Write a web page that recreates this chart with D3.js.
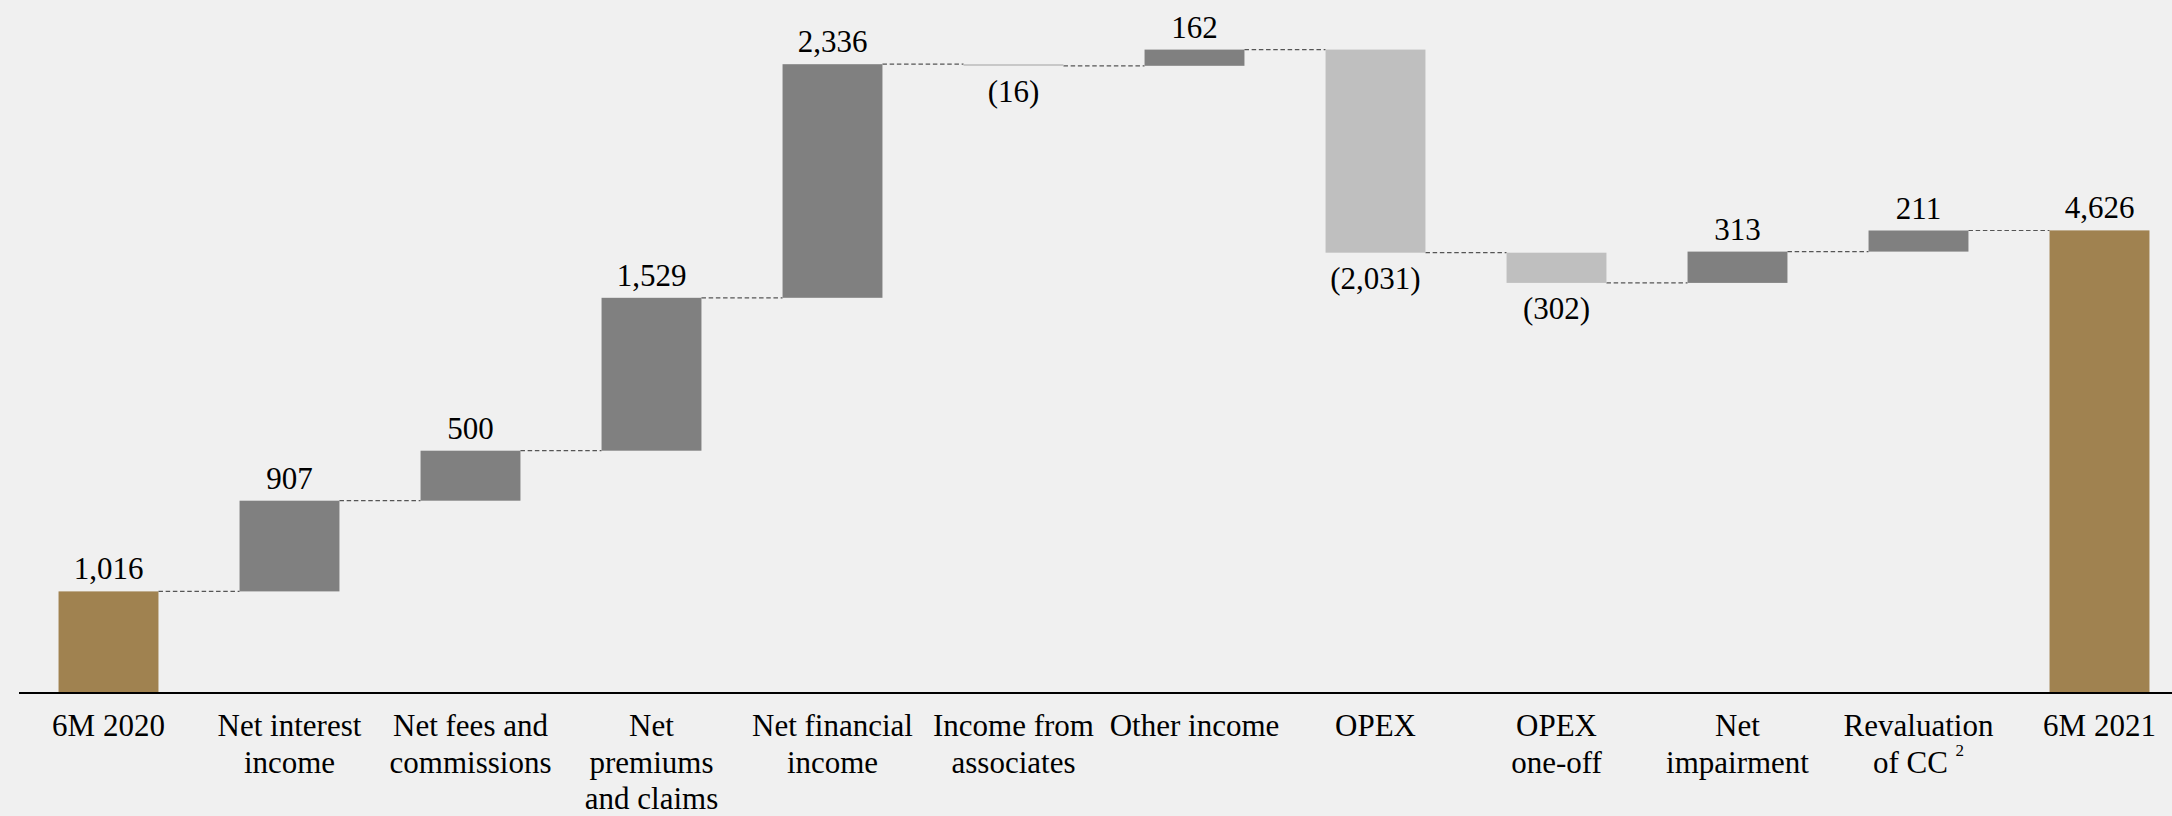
<!DOCTYPE html>
<html>
<head>
<meta charset="utf-8">
<script src="https://cdn.jsdelivr.net/npm/d3@7/dist/d3.min.js"></script>
<style>
  html, body { margin: 0; padding: 0; background: #F0F0F0; }
  svg { display: block; }
</style>
</head>
<body>
<svg id="chart" width="2172" height="816"></svg>
<script>
// ---- Data ----
const categories = [
  "6M 2020", "Net interest income", "Net fees and commissions", "Net premiums and claims",
  "Net financial income", "Income from associates", "Other income", "OPEX",
  "OPEX one-off", "Net impairment", "Revaluation of CC", "6M 2021"
];
const labelLines = [
  ["6M 2020"], ["Net interest", "income"], ["Net fees and", "commissions"],
  ["Net", "premiums", "and claims"], ["Net financial", "income"], ["Income from", "associates"],
  ["Other income"], ["OPEX"], ["OPEX", "one-off"], ["Net", "impairment"],
  ["Revaluation", "of CC"], ["6M 2021"]
];
const superscripts = ["", "", "", "", "", "", "", "", "", "", "2", ""];
const values = [1016, 907, 500, 1529, 2336, -16, 162, -2031, -302, 313, 211, 4626];
const kinds = ["total", "delta", "delta", "delta", "delta", "delta", "delta", "delta", "delta", "delta", "delta", "total"];

// ---- Layout ----
const W = 2172, H = 816;
const axisY = 693;
const colors = { total: "#A08250", up: "#808080", down: "#BFBFBF" };
const font = "'Liberation Serif', 'Times New Roman', serif";

const svg = d3.select("#chart");
svg.append("rect").attr("width", W).attr("height", H).attr("fill", "#F0F0F0");

const x = d3.scaleBand().domain(categories).range([18, 18 + 12 * 181])
  .paddingInner(0.448).paddingOuter(0.224);
const y = d3.scaleLinear().domain([0, 6930]).range([axisY, 0]);

// compute bar extents
let run = 0;
const bars = categories.map((c, i) => {
  const v = values[i];
  let y0, y1;
  if (kinds[i] === "total") { y0 = 0; y1 = v; run = v; }
  else { y0 = run; y1 = run + v; run = y1; }
  return { c, v, y0, y1, kind: kinds[i], level: run };
});

// connectors
const conn = svg.append("g");
bars.slice(0, -1).forEach((b, i) => {
  const nb = bars[i + 1];
  conn.append("line")
    .attr("x1", x(b.c) + x.bandwidth()).attr("x2", x(nb.c))
    .attr("y1", y(b.level)).attr("y2", y(b.level))
    .attr("stroke", "#555").attr("stroke-width", 1.2)
    .attr("stroke-dasharray", "4.5,2.7");
});

// bars
svg.append("g").selectAll("rect").data(bars).join("rect")
  .attr("x", d => x(d.c))
  .attr("width", x.bandwidth())
  .attr("y", d => y(Math.max(d.y0, d.y1)))
  .attr("height", d => Math.max(1, Math.abs(y(d.y0) - y(d.y1))))
  .attr("fill", d => d.kind === "total" ? colors.total : (d.v >= 0 ? colors.up : colors.down));

// value labels
const fmt = d3.format(",");
svg.append("g").selectAll("text").data(bars).join("text")
  .attr("x", d => x(d.c) + x.bandwidth() / 2)
  .attr("y", d => d.v >= 0 ? y(Math.max(d.y0, d.y1)) - 12 : y(Math.min(d.y0, d.y1)) + 36)
  .attr("text-anchor", "middle")
  .attr("font-family", font).attr("font-size", 31).attr("fill", "#000")
  .text(d => d.v >= 0 ? fmt(d.v) : "(" + fmt(-d.v) + ")");

// axis line
svg.append("line").attr("x1", 19).attr("x2", W).attr("y1", axisY).attr("y2", axisY)
  .attr("stroke", "#000").attr("stroke-width", 2);

// category labels
const lab = svg.append("g");
categories.forEach((c, i) => {
  const cx = x(c) + x.bandwidth() / 2;
  labelLines[i].forEach((line, j) => {
    const t = lab.append("text")
      .attr("x", cx).attr("y", axisY + 43 + j * 36.5)
      .attr("text-anchor", "middle")
      .attr("font-family", font).attr("font-size", 31).attr("fill", "#000");
    t.append("tspan").text(line);
    if (superscripts[i] && j === labelLines[i].length - 1) {
      t.append("tspan").text(" ");
      t.append("tspan").attr("font-size", 17).attr("dy", -17).text(superscripts[i]);
    }
  });
});
</script>
</body>
</html>
